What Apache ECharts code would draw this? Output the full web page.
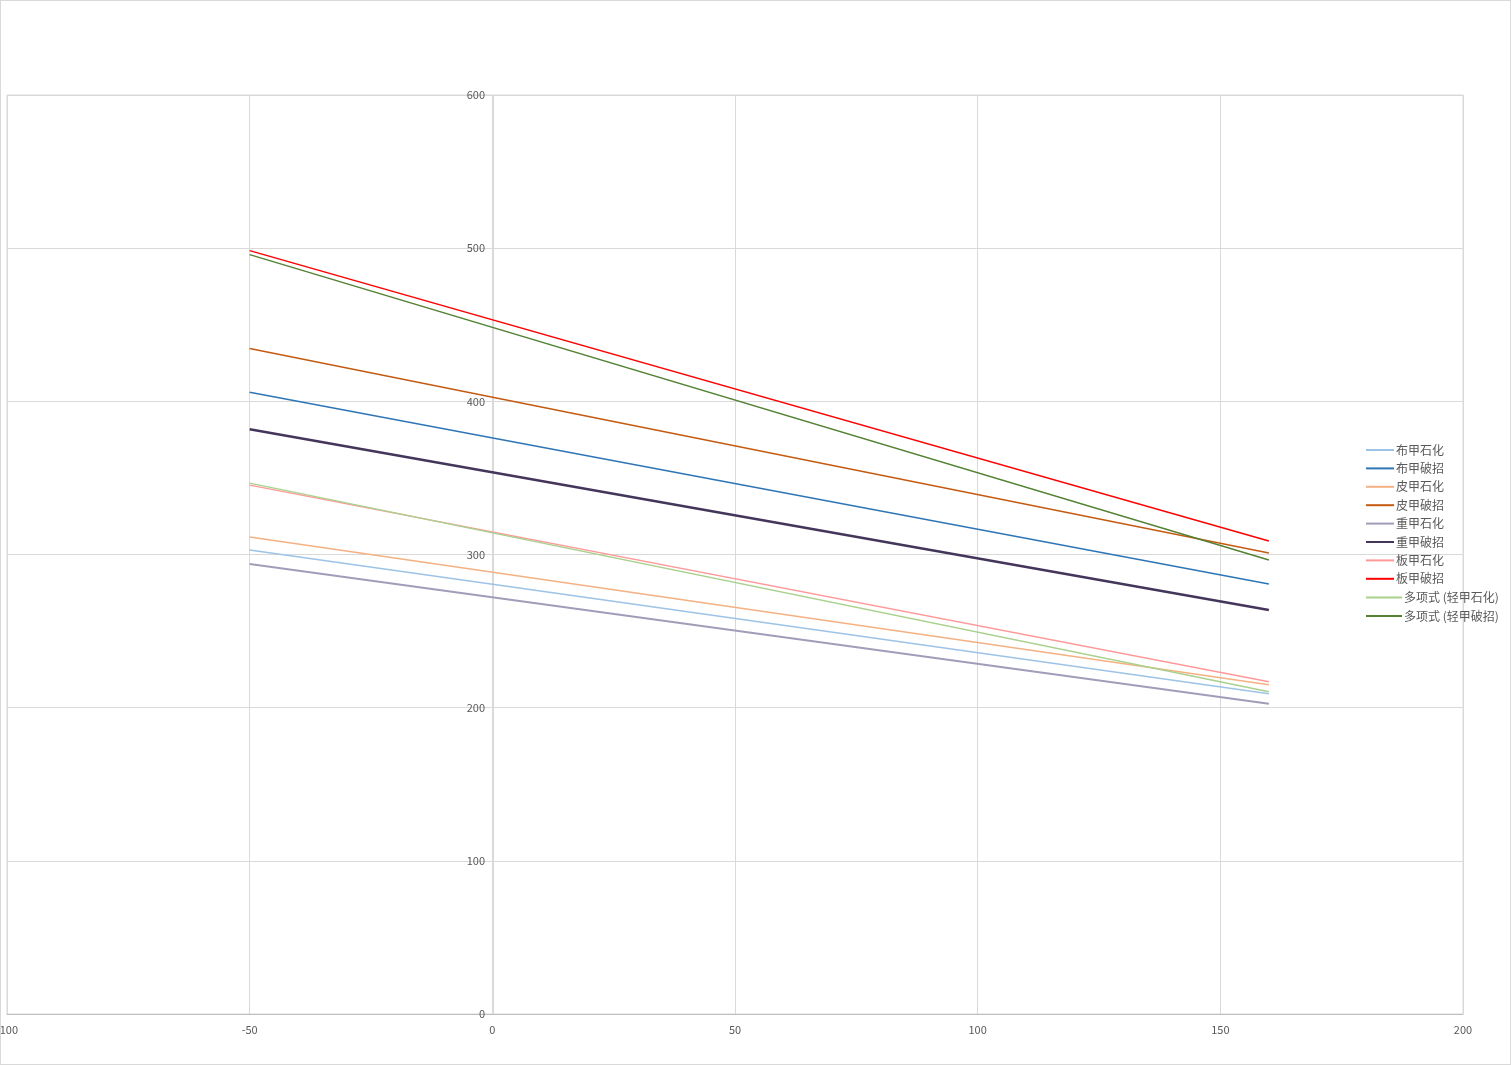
<!DOCTYPE html>
<html><head><meta charset="utf-8">
<script src="https://cdn.jsdelivr.net/npm/echarts@6/dist/echarts.min.js"></script>
<style>html,body{margin:0;padding:0;background:#fff}#c{width:1511px;height:1065px;box-sizing:border-box;border:1px solid #d9d9d9}</style>
</head><body><div id="c"></div>
<script>
const xValues = [-50, 160];
const seriesNames = ['布甲石化','布甲破招','皮甲石化','皮甲破招','重甲石化','重甲破招','板甲石化','板甲破招','多项式 (轻甲石化)','多项式 (轻甲破招)'];
const buShi = [302.9, 209.1];
const buPo = [405.9, 280.8];
const piShi = [311.4, 215.0];
const piPo = [434.5, 301.0];
const zhongShi = [293.8, 202.6];
const zhongPo = [381.8, 263.8];
const banShi = [345.3, 216.9];
const banPo = [498.4, 308.8];
const qingShi = [346.6, 210.4];
const qingPo = [495.8, 296.4];
const colors = ['#9dc3e6','#2e75b6','#f4b183','#c55a11','#a39cb8','#44355a','#ff9999','#ff0000','#a9d18e','#548235'];
const widths = [1.5,1.5,1.5,1.5,2,2.5,1.5,1.5,1.5,1.5];
const allData = [buShi,buPo,piShi,piPo,zhongShi,zhongPo,banShi,banPo,qingShi,qingPo];

const chart = echarts.init(document.getElementById('c'), null, {renderer:'canvas'});
const font = '"Noto Sans CJK SC", "Microsoft YaHei", sans-serif';
chart.setOption({
  animation:false,
  color: colors,
  textStyle:{fontFamily:font},
  legend:[{
    orient:'vertical', left:1360, top:437, itemWidth:28, itemHeight:14, itemGap:4.4,
    icon:'path://M0,6L28,6L28,8L0,8Z',
    data: seriesNames.slice(0,8),
    textStyle:{color:'#595959', fontSize:12, fontFamily:font, padding:[0,0,0,-3], lineHeight:14}
  },{
    orient:'vertical', left:1360, top:584.6, itemWidth:36, itemHeight:14, itemGap:4.4,
    icon:'path://M0,6L36,6L36,8L0,8Z',
    data: seriesNames.slice(8),
    textStyle:{color:'#595959', fontSize:12, fontFamily:font, padding:[0,0,0,-3], lineHeight:14}
  }],
  grid:{left:6, right:47, top:94, bottom:50, show:true, borderColor:'#d9d9d9', borderWidth:1, containLabel:false, outerBoundsMode:'none'},
  xAxis:{type:'value', min:-100, max:200, interval:50,
    axisLine:{onZero:false, lineStyle:{color:'#bfbfbf'}},
    axisTick:{show:false},
    axisLabel:{color:'#595959', fontSize:11, margin:10, fontFamily:font},
    splitLine:{lineStyle:{color:'#d9d9d9'}}},
  yAxis:{type:'value', min:0, max:600, interval:100, position:'left', offset:-486,
    axisLine:{show:true, onZero:false, lineStyle:{color:'#d9d9d9'}},
    axisTick:{show:false},
    axisLabel:{color:'#595959', fontSize:11, margin:8, fontFamily:font},
    splitLine:{lineStyle:{color:'#d9d9d9'}}},
  series: seriesNames.map((n,i)=>({
    name:n, type:'line', showSymbol:false, symbol:'none',
    lineStyle:{width:widths[i], color:colors[i]},
    data: xValues.map((x,j)=>[x, allData[i][j]])
  }))
});
</script></body></html>
